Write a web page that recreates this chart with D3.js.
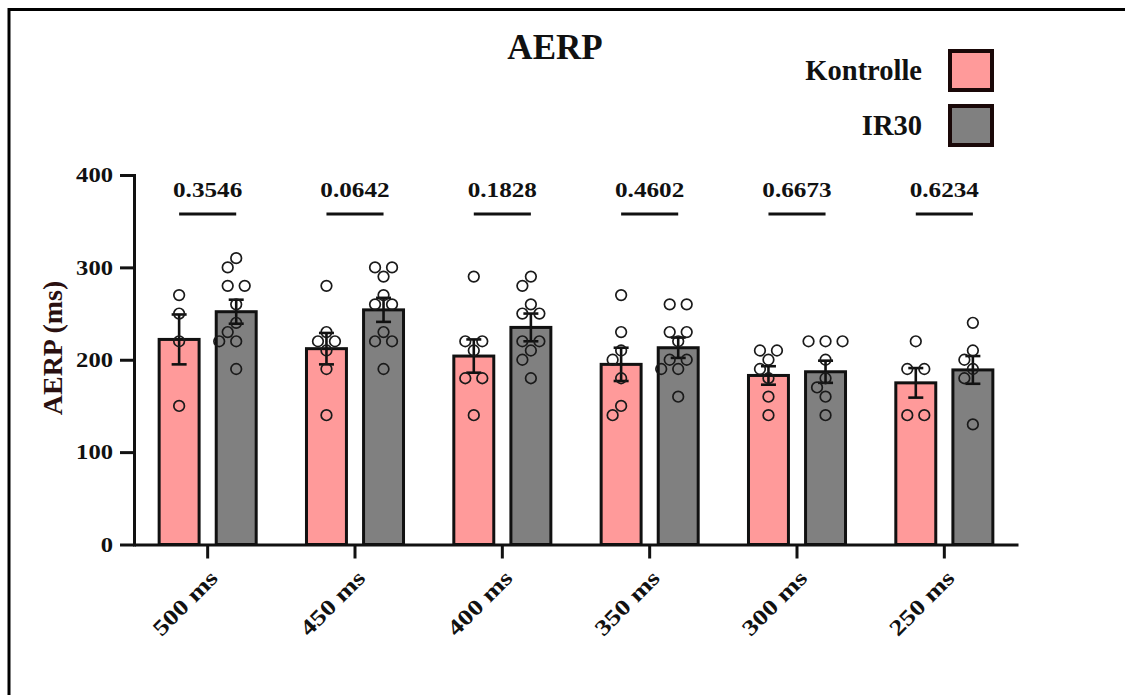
<!DOCTYPE html>
<html>
<head>
<meta charset="utf-8">
<script src="https://cdn.jsdelivr.net/npm/d3@7/dist/d3.min.js"></script>
<style>
  html, body { margin: 0; padding: 0; background: #fff; }
  svg { display: block; }
  text { font-family: "Liberation Serif", "Times New Roman", serif; font-weight: bold; }
</style>
</head>
<body>
<svg id="chart" width="1125" height="695"></svg>
<script>
// ---- data ----
const categories = ["500 ms", "450 ms", "400 ms", "350 ms", "300 ms", "250 ms"];
const series = ["Kontrolle", "IR30"];
const kontrolleMean = [222, 212, 204, 195, 183, 175];
const kontrolleSem  = [27, 17, 18, 18, 10, 16];
const ir30Mean = [252, 254, 235, 213, 187, 189];
const ir30Sem  = [13, 13, 15, 11, 12, 15];
const kontrollePoints = [
  [270, 250, 220, 150],
  [280, 230, 220, 220, 210, 190, 140],
  [290, 220, 220, 210, 180, 180, 140],
  [270, 230, 210, 200, 180, 150, 140],
  [210, 210, 200, 190, 180, 160, 140],
  [220, 190, 190, 140, 140]
];
const ir30Points = [
  [310, 300, 280, 280, 260, 240, 230, 220, 220, 190],
  [300, 300, 290, 270, 260, 260, 230, 220, 220, 190],
  [290, 280, 260, 250, 250, 220, 220, 210, 200, 180],
  [260, 260, 230, 230, 220, 200, 200, 190, 190, 160],
  [220, 220, 220, 200, 180, 170, 160, 140],
  [240, 210, 200, 190, 180, 130]
];
const pValues = ["0.3546", "0.0642", "0.1828", "0.4602", "0.6673", "0.6234"];
const yTicks = [0, 100, 200, 300, 400];

const colors = { "Kontrolle": "#ff9a9a", "IR30": "#808080" };
const ink = "#111";

// ---- scales ----
const svg = d3.select("#chart");
svg.append("rect").attr("width", 1125).attr("height", 695).attr("fill", "#fff");

const y = d3.scaleLinear().domain([0, 400]).range([544.5, 175]);
const x0 = d3.scaleBand().domain(categories).range([134, 1018])
  .paddingInner(0.321).paddingOuter(0.1605);
const x1 = d3.scaleBand().domain(series).range([1.5, x0.bandwidth() - 1.5]).paddingInner(0.3);

const rows = categories.map((c, i) => ({
  cat: c,
  values: [
    { s: "Kontrolle", mean: kontrolleMean[i], sem: kontrolleSem[i], pts: kontrollePoints[i] },
    { s: "IR30", mean: ir30Mean[i], sem: ir30Sem[i], pts: ir30Points[i] }
  ]
}));

// frame edges
svg.append("path").attr("d", "M9,695V9.5H1125")
  .attr("fill", "none").attr("stroke", "#000").attr("stroke-width", 3);

// ---- bars ----
const groups = svg.append("g").selectAll("g").data(rows).join("g")
  .attr("transform", d => `translate(${x0(d.cat)},0)`);

groups.selectAll("rect").data(d => d.values).join("rect")
  .attr("x", d => x1(d.s))
  .attr("width", x1.bandwidth())
  .attr("y", d => y(d.mean))
  .attr("height", d => y(0) - y(d.mean))
  .attr("fill", d => colors[d.s])
  .attr("stroke", ink)
  .attr("stroke-width", 3);

// ---- error bars (mean ± SEM) ----
const capW = 15;
groups.each(function (d) {
  const g = d3.select(this);
  d.values.forEach(v => {
    const cx = x1(v.s) + x1.bandwidth() / 2;
    const top = y(v.mean + v.sem), bot = y(v.mean - v.sem);
    const eb = g.append("g").attr("stroke", ink).attr("stroke-width", 2.6);
    eb.append("line").attr("x1", cx).attr("x2", cx).attr("y1", top).attr("y2", bot);
    eb.append("line").attr("x1", cx - capW / 2).attr("x2", cx + capW / 2).attr("y1", top).attr("y2", top);
    eb.append("line").attr("x1", cx - capW / 2).attr("x2", cx + capW / 2).attr("y1", bot).attr("y2", bot);
  });
});

// ---- individual values: equal values sit side by side, others dodge sideways ----
const r = 5.3, minDist = 12, half = 8.5;
function swarm(vals) {
  const placed = [];
  const byValue = d3.groups(vals, v => v).sort((a, b) => b[0] - a[0]);
  byValue.forEach(([v, list]) => {
    const py = y(v), n = list.length;
    for (let k = 0; k < 40; k++) {
      const shift = Math.ceil(k / 2) * (k % 2 ? -1 : 1) * half;
      const spread = 2 * half;
      const xs = d3.range(n).map(i => shift + (i - (n - 1) / 2) * spread);
      const ok = xs.every(px => placed.every(p => Math.hypot(p.px - px, p.py - py) >= minDist));
      if (ok) { xs.forEach(px => placed.push({ px, py, v })); break; }
    }
  });
  return placed;
}
groups.each(function (d) {
  const g = d3.select(this);
  d.values.forEach(v => {
    const cx = x1(v.s) + x1.bandwidth() / 2;
    g.append("g").selectAll("circle").data(swarm(v.pts)).join("circle")
      .attr("cx", p => cx + p.px)
      .attr("cy", p => p.py)
      .attr("r", r)
      .attr("fill", "none")
      .attr("stroke", "#1a1a1a")
      .attr("stroke-width", 1.7);
  });
});

// ---- p-value brackets ----
const bracketY = y(400) + 39;
groups.each(function (d, i) {
  const g = d3.select(this);
  const xa = x1("Kontrolle") + x1.bandwidth() / 2;
  const xb = x1("IR30") + x1.bandwidth() / 2;
  g.append("line").attr("x1", xa).attr("x2", xb).attr("y1", bracketY).attr("y2", bracketY)
    .attr("stroke", ink).attr("stroke-width", 3);
  g.append("text")
    .attr("transform", `translate(${x0.bandwidth() / 2},${bracketY - 17}) scale(1.26,1)`)
    .attr("text-anchor", "middle")
    .attr("font-size", 20)
    .attr("fill", "#111")
    .text(pValues[i]);
});

// ---- axes ----
const yAxis = svg.append("g").attr("transform", "translate(134,0)")
  .call(d3.axisLeft(y).tickValues(yTicks).tickSize(14).tickSizeOuter(0));
yAxis.select(".domain").attr("stroke", ink).attr("stroke-width", 3).attr("stroke-linecap", "square");
yAxis.selectAll(".tick line").attr("stroke", ink).attr("stroke-width", 3);
yAxis.selectAll(".tick text")
  .attr("x", 0).attr("dy", "0.34em")
  .attr("transform", "translate(-21,0) scale(1.23,1)")
  .attr("font-size", 20)
  .attr("fill", "#111");

const xAxis = svg.append("g").attr("transform", `translate(0,${y(0)})`)
  .call(d3.axisBottom(x0).tickSize(14).tickSizeOuter(0));
xAxis.select(".domain").attr("stroke", ink).attr("stroke-width", 3);
xAxis.selectAll(".tick line").attr("stroke", ink).attr("stroke-width", 3);
xAxis.selectAll(".tick text")
  .attr("x", 0).attr("y", 0).attr("dy", 0)
  .attr("text-anchor", "end")
  .attr("transform", "translate(11.5,35) rotate(-45) scale(1.25,1)")
  .attr("font-size", 22)
  .attr("fill", "#111");
svg.selectAll(".tick text")
  .style("font-family", "'Liberation Serif', 'Times New Roman', serif")
  .style("font-weight", "bold");

// ---- titles ----
svg.append("text").attr("x", 555).attr("y", 59).attr("text-anchor", "middle")
  .attr("font-size", 35).attr("fill", "#111").text("AERP");

svg.append("text").attr("transform", "translate(62,348) rotate(-90)")
  .attr("text-anchor", "middle").attr("font-size", 28).attr("fill", "#2a1010")
  .text("AERP (ms)");

// ---- legend ----
const legend = svg.append("g").selectAll("g").data(series).join("g")
  .attr("transform", (d, i) => `translate(0,${i * 55})`);
legend.append("text").attr("x", 922).attr("y", 80).attr("text-anchor", "end")
  .attr("font-size", 28.5).attr("fill", "#111").text(d => d);
legend.append("rect").attr("x", 950).attr("y", 51).attr("width", 42).attr("height", 39)
  .attr("fill", d => colors[d]).attr("stroke", "#1a0808").attr("stroke-width", 4);
</script>
</body>
</html>
